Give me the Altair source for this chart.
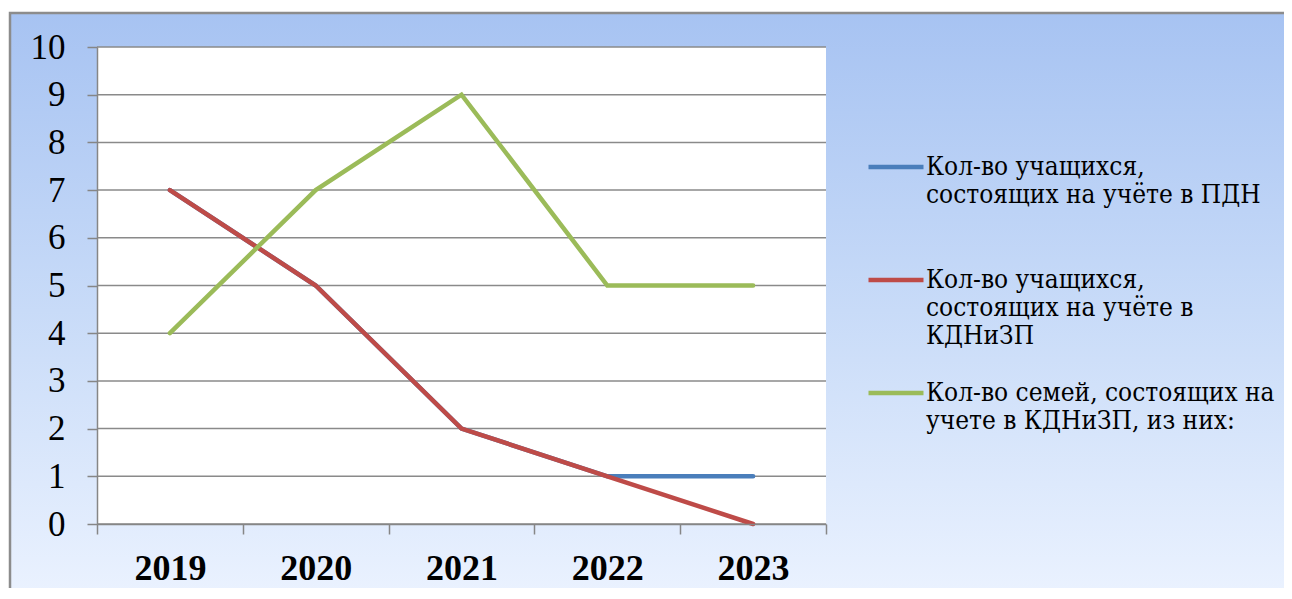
import altair as alt
import pandas as pd

years = [2019, 2020, 2021, 2022, 2023]
series_names = [
    "Кол-во учащихся,|состоящих на учёте в ПДН",
    "Кол-во учащихся,|состоящих на учёте в|КДНиЗП",
    "Кол-во семей, состоящих на|учете в КДНиЗП, из них:",
]
pdn = [7, 5, 2, 1, 1]
kdn = [7, 5, 2, 1, 0]
fam = [4, 7, 9, 5, 5]
colors = ["#4a7ebb", "#be4b48", "#9bbb59"]
y_ticks = list(range(0, 11))
x_ticks = [2018.5, 2019, 2019.5, 2020, 2020.5, 2021, 2021.5, 2022, 2022.5, 2023, 2023.5]

rows = []
for i, (name, vals) in enumerate(zip(series_names, [pdn, kdn, fam])):
    for y, v in zip(years, vals):
        rows.append({"series": name, "year": y, "value": v, "order": i})
df = pd.DataFrame(rows)

W, H = 729, 477
PL, PT = 89, 39
TOTAL_W, TOTAL_H = 1276, 580
FONT = "Liberation Serif"
LEG_FONT = "DejaVu Serif Condensed"

xscale = alt.Scale(domain=[2018.5, 2023.5], nice=False, zero=False)
yscale = alt.Scale(domain=[0, 10], nice=False)

y_axis = alt.Axis(
    values=y_ticks,
    title=None,
    grid=False,
    labelFont=FONT,
    labelFontSize=35,
    labelColor="black",
    labelPadding=22,
    tickSize=10,
    tickWidth=1.5,
    tickColor="#868686",
    domainColor="#868686",
    domainWidth=1.5,
    zindex=1,
)

bg = alt.Chart(pd.DataFrame({"a": [0]})).mark_rect(
    fill=alt.Gradient(
        gradient="linear",
        stops=[
            alt.GradientStop(color="#a7c3f2", offset=0),
            alt.GradientStop(color="#c8dbf8", offset=0.5),
            alt.GradientStop(color="#ecf3ff", offset=1),
        ],
        x1=0, x2=0, y1=0, y2=1,
    ),
    stroke="#8c8c8c",
    strokeWidth=2.5,
).encode(
    x=alt.value(-87), x2=alt.value(TOTAL_W - PL + 20),
    y=alt.value(-34), y2=alt.value(TOTAL_H - PT + 20),
)

plot_bg = alt.Chart(pd.DataFrame({"a": [0]})).mark_rect(fill="white").encode(
    x=alt.value(0), x2=alt.value("width"), y=alt.value(0), y2=alt.value("height")
)

grid = alt.Chart(pd.DataFrame({"value": y_ticks})).mark_rule(
    color="#8a8a8a", strokeWidth=1.5
).encode(y=alt.Y("value:Q", scale=yscale, axis=y_axis))

lines = alt.Chart(df).mark_line(strokeWidth=4.5, strokeCap="round", strokeJoin="miter").encode(
    x=alt.X(
        "year:Q",
        scale=xscale,
        axis=alt.Axis(
            values=x_ticks,
            title=None,
            grid=False,
            labelExpr="datum.value % 1 == 0 ? toString(datum.value) : ''",
            labelFont=FONT,
            labelFontSize=36,
            labelFontWeight="bold",
            labelColor="black",
            labelPadding=17,
            labelFlush=False,
            labelOverlap=False,
            tickSize=10,
            tickWidth=1.5,
            tickColor="#868686",
            tickOpacity={"condition": {"test": "datum.value % 1 != 0", "value": 1}, "value": 0},
            domainColor="#868686",
            domainWidth=1.5,
            zindex=1,
        ),
    ),
    y=alt.Y("value:Q", scale=yscale, axis=y_axis),
    color=alt.Color(
        "series:N",
        scale=alt.Scale(domain=series_names, range=colors),
        legend=alt.Legend(
            title=None,
            orient="none",
            legendX=769,
            legendY=90,
            symbolType="stroke",
            symbolSize=3025,
            symbolStrokeWidth=4.5,
            labelFont=LEG_FONT,
            labelFontSize=26,
            labelColor="black",
            labelExpr="split(datum.label, '|')",
            labelLimit=0,
            labelOffset=0,
            rowPadding=14,
            gridAlign="all",
        ),
    ),
    order=alt.Order("order:Q"),
    detail="series:N",
)

chart = alt.layer(bg, plot_bg, grid, lines).properties(
    width=W,
    height=H,
    padding={"left": PL, "top": PT, "right": TOTAL_W - PL - W, "bottom": TOTAL_H - PT - H},
    autosize=alt.AutoSizeParams(type="none"),
).configure_view(stroke=None)

chart.save("out.html", embed_options={"renderer": "svg", "actions": False})
